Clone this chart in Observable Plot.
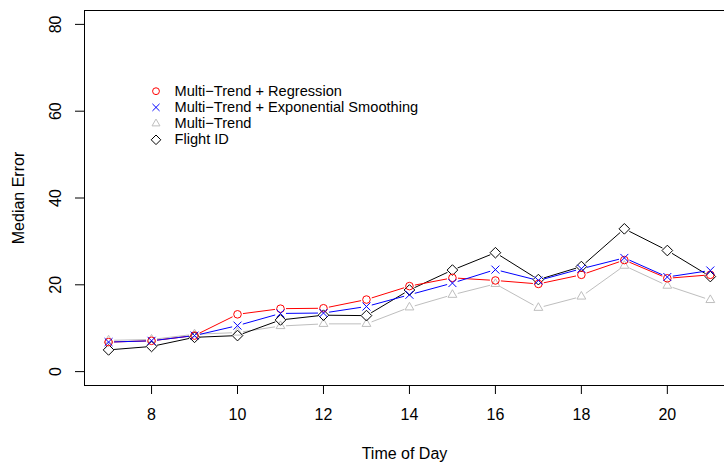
<!DOCTYPE html>
<html>
<head>
<meta charset="utf-8">
<script src="https://cdn.jsdelivr.net/npm/d3@7"></script>
<script src="https://cdn.jsdelivr.net/npm/@observablehq/plot@0.6"></script>
<style>
  html, body { margin: 0; padding: 0; background: #fff; }
  #chart { position: relative; width: 724px; height: 466px; }
  svg { font-family: "Liberation Sans", Arial, sans-serif; }
</style>
</head>
<body>
<div id="chart"></div>
<script>
// ---- data ----
const hours = [7, 8, 9, 10, 11, 12, 13, 14, 15, 16, 17, 18, 19, 20, 21];
const regression   = [6.8, 7.1, 8.3, 13.2, 14.5, 14.6, 16.6, 19.7, 21.6, 21.0, 20.2, 22.3, 25.7, 21.5, 22.3];
const expSmoothing = [6.8, 7.1, 8.3, 10.6, 13.4, 13.5, 15.0, 17.7, 20.4, 23.5, 21.0, 23.7, 26.2, 21.8, 23.3];
const multiTrend   = [7.2, 7.4, 8.6, 9.0, 10.5, 11.0, 11.0, 14.8, 17.7, 20.2, 14.7, 17.3, 24.4, 19.8, 16.5];
const flightId     = [5.0, 5.8, 7.9, 8.3, 11.9, 13.0, 12.9, 18.8, 23.4, 27.4, 21.2, 24.2, 32.9, 27.9, 21.9];
const xTicks = [8, 10, 12, 14, 16, 18, 20];
const yTicks = [0, 20, 40, 60, 80];
const legendLabels = ["Multi\u2212Trend + Regression", "Multi\u2212Trend + Exponential Smoothing", "Multi\u2212Trend", "Flight ID"];

const xDomain = [6.44, 21.33];
const yDomain = [-3.2, 83.2];

// series specs (drawing order: gray, black, red, blue)
const series = [
  {name: legendLabels[2], values: multiTrend, color: "#BEBEBE", symbol: "triangle2", r: 4.2, legendRow: 2},
  {name: legendLabels[3], values: flightId, color: "#000000", symbol: "diamond2", r: 4.8, legendRow: 3},
  {name: legendLabels[0], values: regression, color: "#FF0000", symbol: "circle", r: 3.8, legendRow: 0},
  {name: legendLabels[1], values: expSmoothing, color: "#0000FF", symbol: "times", r: 3.7, legendRow: 1}
];

const marks = [];
for (const s of series) {
  const pts = hours.map((h, i) => ({x: h, y: s.values[i]}));
  const segs = pts.slice(1).map((p, i) => ({x1: pts[i].x, y1: pts[i].y, x2: p.x, y2: p.y}));
  marks.push(Plot.arrow(segs, {
    x1: "x1", y1: "y1", x2: "x2", y2: "y2",
    stroke: s.color, strokeWidth: 1, headLength: 0, inset: 5.5,
    strokeLinecap: "butt"
  }));
  marks.push(Plot.dot(pts, {
    x: "x", y: "y", symbol: () => s.symbol, r: s.r,
    stroke: s.color, strokeWidth: 1, fill: "none"
  }));
}

// legend (inside plot, top-left)
const legendSorted = series.slice().sort((a, b) => a.legendRow - b.legendRow);
legendSorted.forEach((s, i) => {
  marks.push(Plot.dot([s.name], {
    frameAnchor: "top-left", dx: 71.5, dy: 80.7 + i * 16.2,
    symbol: () => s.symbol, r: s.r * 0.9, stroke: s.color, strokeWidth: 1, fill: "none"
  }));
  marks.push(Plot.text([s.name], {
    frameAnchor: "top-left", dx: 90, dy: 80.7 + i * 16.2,
    text: d => d, textAnchor: "start", lineAnchor: "middle",
    fontSize: 14.6, fill: "#000"
  }));
});

// box (left, top, bottom; right edge lies outside the cropped image)
marks.push(Plot.ruleY([yDomain[0], yDomain[1]], {stroke: "#000", strokeWidth: 1}));
marks.push(Plot.ruleX([xDomain[0]], {stroke: "#000", strokeWidth: 1}));

// axes
marks.push(Plot.axisX(xTicks, {tickSize: 9, tickPadding: 14, fontSize: 16, stroke: "#000", fill: "#000", label: null}));
marks.push(Plot.axisY(yTicks, {tickSize: 9, tickFormat: () => "", label: null, stroke: "#000"}));
marks.push(Plot.text(yTicks, {
  y: d => d, frameAnchor: "left", dx: -29, rotate: -90,
  text: d => String(d), textAnchor: "middle", lineAnchor: "middle", fontSize: 16, fill: "#000"
}));
// axis titles
marks.push(Plot.text(["Time of Day"], {
  frameAnchor: "bottom", dy: 68, text: d => d, fontSize: 16, fill: "#000", lineAnchor: "middle"
}));
marks.push(Plot.text(["Median Error"], {
  frameAnchor: "left", dx: -66, rotate: -90, text: d => d, fontSize: 16, fill: "#000",
  textAnchor: "middle", lineAnchor: "middle"
}));

const chart = Plot.plot({
  width: 724,
  height: 466,
  marginLeft: 84,
  marginRight: 0,
  marginTop: 10,
  marginBottom: 81,
  style: {fontFamily: "'Liberation Sans', Arial, sans-serif", background: "#fff", overflow: "visible"},
  x: {domain: xDomain, axis: null},
  y: {domain: yDomain, axis: null},
  marks
});
document.getElementById("chart").appendChild(chart);
</script>
</body>
</html>
